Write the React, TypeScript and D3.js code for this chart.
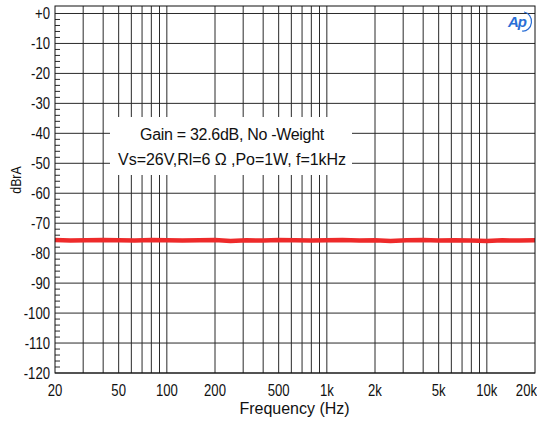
import React from "react";
import * as d3 from "d3";

const freqs = [20, 25, 31.5, 40, 50, 63, 80, 100, 125, 160, 200, 250, 315, 400, 500, 630, 800, 1000, 1250, 1600, 2000, 2500, 3150, 4000, 5000, 6300, 8000, 10000, 12500, 16000, 20000];
const levels = [-75.6, -75.8, -75.7, -75.6, -75.7, -75.8, -75.6, -75.7, -75.8, -75.7, -75.6, -75.9, -75.7, -75.8, -75.6, -75.7, -75.8, -75.7, -75.6, -75.8, -75.7, -75.9, -75.7, -75.6, -75.8, -75.7, -75.8, -75.9, -75.7, -75.8, -75.7];
const xTickValues = [20, 50, 100, 200, 500, 1000, 2000, 5000, 10000, 20000];
const xTickLabels = ["20", "50", "100", "200", "500", "1k", "2k", "5k", "10k", "20k"];
const yTickValues = [0, -10, -20, -30, -40, -50, -60, -70, -80, -90, -100, -110, -120];
const yTickLabels = ["+0", "-10", "-20", "-30", "-40", "-50", "-60", "-70", "-80", "-90", "-100", "-110", "-120"];
const xGridValues = [30, 40, 50, 60, 70, 80, 90, 100, 200, 300, 400, 500, 600, 700, 800, 900, 1000, 2000, 3000, 4000, 5000, 6000, 7000, 8000, 9000, 10000];
const annotation = ["Gain = 32.6dB, No -Weight", "Vs=26V,Rl=6 \u03A9 ,Po=1W, f=1kHz"];

export default function App() {
  const L = 55, R = 535, T = 6, B = 373;
  const x = d3.scaleLog().domain([20, 20000]).range([L, R]);
  const y = d3.scaleLinear().domain([-120, 2.5]).range([B, T]);
  const line = d3.line<number>().x((_, i) => x(freqs[i])).y((d) => y(d));
  const minor = d3.range(-120, 2, 2).filter((v) => v % 10 !== 0);
  const font = "'Liberation Sans', Arial, sans-serif";
  const grid = "#2a2a2a";
  return (
    <div style={{ position: "fixed", left: 0, top: 0 }}>
      <svg width={537} height={426} style={{ display: "block", background: "#fff" }} fontFamily={font}>
        <rect x={0} y={0} width={537} height={426} fill="#fff" />
        {yTickValues.map((v) => (
          <line key={"h" + v} x1={L} x2={R} y1={y(v)} y2={y(v)} stroke={grid} strokeWidth={1} />
        ))}
        {xGridValues.map((v) => (
          <line key={"v" + v} x1={x(v)} x2={x(v)} y1={T} y2={B} stroke={grid} strokeWidth={1} />
        ))}
        {minor.map((v) => (
          <line key={"m" + v} x1={L} x2={L + 5} y1={y(v)} y2={y(v)} stroke={grid} strokeWidth={1} />
        ))}
        <rect x={110} y={117} width={242} height={58} fill="#fff" />
        {annotation.map((t, i) => (
          <text key={t} x={232} y={139.5 + i * 25} textAnchor="middle" fontSize={16} letterSpacing={i === 0 ? -0.3 : -0.05} fill="#111">
            {t}
          </text>
        ))}
        <path d={line(levels) || ""} fill="none" stroke="#ee2a2a" strokeWidth={4.5} strokeLinejoin="round" />
        <rect x={L} y={T} width={R - L} height={B - T} fill="none" stroke="#111" strokeWidth={1} />
        {yTickValues.map((v, i) => (
          <text key={"yl" + v} transform={`translate(50,${y(v) + 5.5}) scale(0.82,1)`} textAnchor="end" fontSize={16} fill="#111">
            {yTickLabels[i]}
          </text>
        ))}
        {xTickValues.map((v, i) => {
          const last = i === xTickValues.length - 1;
          return (
            <text
              key={"xl" + v}
              transform={`translate(${last ? 537 : x(v)},395.5) scale(0.82,1)`}
              textAnchor={last ? "end" : "middle"}
              fontSize={16}
              fill="#111"
            >
              {xTickLabels[i]}
            </text>
          );
        })}
        <text x={294.5} y={414} textAnchor="middle" fontSize={16} fill="#111">
          Frequency (Hz)
        </text>
        <text transform="translate(21,180) rotate(-90) scale(0.82,1)" textAnchor="middle" fontSize={15} fill="#111">
          dBrA
        </text>
        <g>
          <text x={508} y={27} fontSize={15} fontStyle="italic" fontWeight="bold" fill="#2a6fd6" letterSpacing={-1}>
            Ap
          </text>
          <path d="M 524 12 A 8 9 0 0 1 522 31" fill="none" stroke="#2a6fd6" strokeWidth={1.2} />
        </g>
      </svg>
    </div>
  );
}
